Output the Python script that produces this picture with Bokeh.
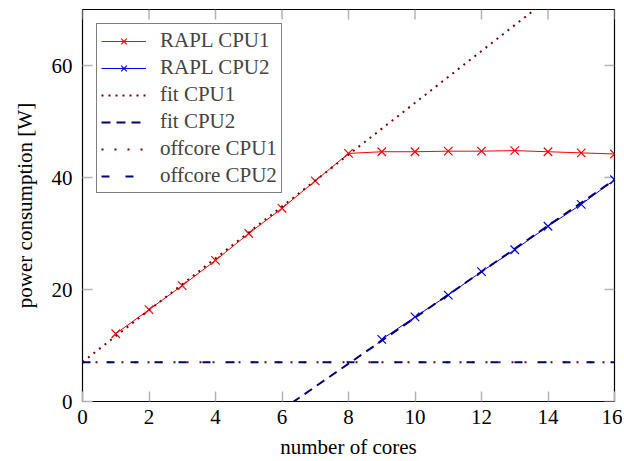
import math
from bokeh.plotting import figure
from bokeh.models import Legend, LegendItem, Range1d, FixedTicker
from bokeh.embed import file_html
from bokeh.resources import INLINE

# ---- data ----
cores_cpu1 = [1, 2, 3, 4, 5, 6, 7, 8, 9, 10, 11, 12, 13, 14, 15, 16]
rapl_cpu1 = [12.1, 16.4, 20.7, 25.2, 30.0, 34.5, 39.4, 44.3, 44.6, 44.6, 44.7, 44.7, 44.8, 44.6, 44.4, 44.2]
cores_cpu2 = [9, 10, 11, 12, 13, 14, 15, 16]
rapl_cpu2 = [11.1, 15.1, 19.0, 23.2, 27.1, 31.3, 35.2, 39.6]
fit_x = [0, 16]
fit_cpu1 = [7.05, 81.1]
fit_cpu2 = [-26.1, 39.6]
offcore_cpu1 = [7.0, 7.0]
offcore_cpu2 = [7.0, 7.0]
x_ticks = [0, 2, 4, 6, 8, 10, 12, 14, 16]
y_ticks = [0, 20, 40, 60]
x_min, x_max = 0, 16
y_min, y_max = 0, 70

FONT = "Liberation Serif"
FS = "21px"
TICK_GREY = "#b3b3b3"
TICK_LEN = 10

p = figure(width=622, height=461, output_backend="svg", toolbar_location=None,
           x_range=Range1d(x_min, x_max), y_range=Range1d(y_min, y_max),
           min_border_left=82, min_border_right=8, min_border_top=9, min_border_bottom=57)
p.grid.visible = False
p.outline_line_color = "black"
p.outline_line_width = 1.2
p.background_fill_color = "white"
p.border_fill_color = "white"

for ax, ticks in ((p.xaxis[0], x_ticks), (p.yaxis[0], y_ticks)):
    ax.ticker = FixedTicker(ticks=ticks)
    ax.major_tick_in = TICK_LEN
    ax.major_tick_out = 0
    ax.minor_tick_in = 0
    ax.minor_tick_out = 0
    ax.major_tick_line_color = TICK_GREY
    ax.major_tick_line_width = 1.5
    ax.axis_line_color = None
    ax.major_label_text_font = FONT
    ax.major_label_text_font_size = FS
    ax.major_label_text_color = "black"
    ax.axis_label_text_font = FONT
    ax.axis_label_text_font_size = FS
    ax.axis_label_text_font_style = "normal"
    ax.axis_label_text_color = "black"

p.xaxis.axis_label = "number of cores"
p.yaxis.axis_label = "power consumption [W]"
p.xaxis.major_label_standoff = 8
p.yaxis.major_label_standoff = 10
p.xaxis.axis_label_standoff = 8
p.yaxis.axis_label_standoff = 12

# inner ticks on the right and top edges (mirroring the axis ticks)
p.ray(x=[x_max] * len(y_ticks), y=y_ticks, angle=math.pi, length=TICK_LEN,
      length_units="screen", line_color=TICK_GREY, line_width=1.5)
p.ray(x=x_ticks, y=[y_max] * len(x_ticks), angle=-math.pi / 2, length=TICK_LEN,
      length_units="screen", line_color=TICK_GREY, line_width=1.5)

r1l = p.line(cores_cpu1, rapl_cpu1, line_color="red", line_width=1)
r1m = p.scatter(cores_cpu1, rapl_cpu1, marker="x", size=12, line_color="red", line_width=1.2)
r2l = p.line(cores_cpu2, rapl_cpu2, line_color="blue", line_width=1)
r2m = p.scatter(cores_cpu2, rapl_cpu2, marker="x", size=12, line_color="blue", line_width=1.2)
f1 = p.line(fit_x, fit_cpu1, line_color="#7a0000", line_width=2, line_dash="2 5")
f2 = p.line(fit_x, fit_cpu2, line_color="#000080", line_width=2, line_dash="9 6")
o1 = p.line(fit_x, offcore_cpu1, line_color="#7a0000", line_width=2, line_dash="2 11")
o2 = p.line(fit_x, offcore_cpu2, line_color="#000080", line_width=2, line_dash="8 16")

legend = Legend(items=[
    LegendItem(label="RAPL CPU1", renderers=[r1l, r1m]),
    LegendItem(label="RAPL CPU2", renderers=[r2l, r2m]),
    LegendItem(label="fit CPU1", renderers=[f1]),
    LegendItem(label="fit CPU2", renderers=[f2]),
    LegendItem(label="offcore CPU1", renderers=[o1]),
    LegendItem(label="offcore CPU2", renderers=[o2]),
], location="top_left")
legend.margin = 14
legend.padding = 4
legend.spacing = 2
legend.glyph_width = 45
legend.glyph_height = 20
legend.label_height = 20
legend.label_standoff = 14
legend.label_text_font = FONT
legend.label_text_font_size = FS
legend.border_line_color = "black"
legend.border_line_width = 1
legend.background_fill_alpha = 1
p.add_layout(legend, "center")

open("out.html", "w").write(file_html(p, INLINE))
